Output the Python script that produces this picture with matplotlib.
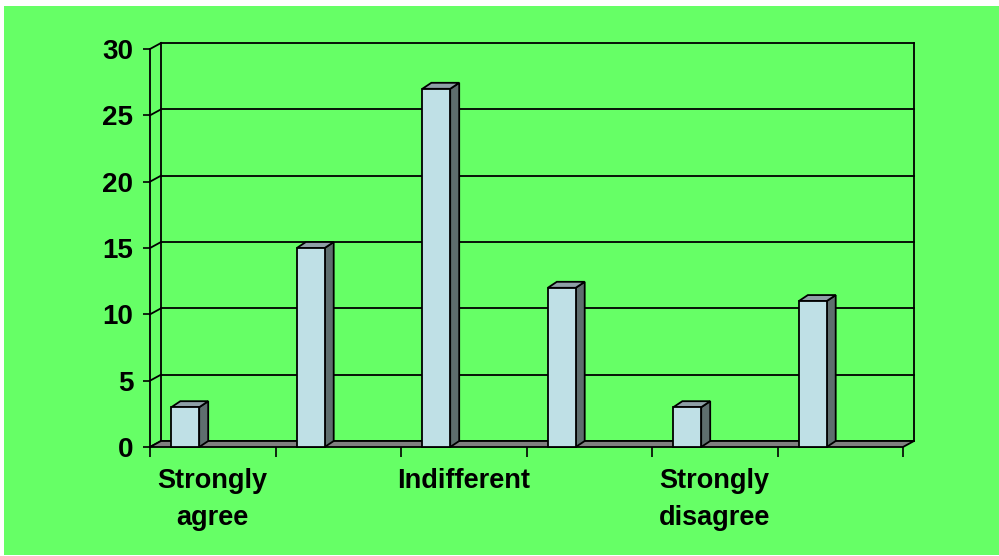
import matplotlib
matplotlib.use("Agg")
import matplotlib.pyplot as plt
from matplotlib.patches import Polygon, Rectangle
from matplotlib.lines import Line2D

# ---- data ----
categories = ["Strongly\nagree", "", "Indifferent", "", "Strongly\ndisagree", ""]
values = [3, 15, 27, 12, 3, 11]
y_ticks = [0, 5, 10, 15, 20, 25, 30]

# ---- style ----
BG = "#66FF66"
FRONT = "#BFE0E6"
SIDE = "#5E6E6E"
TOP = "#8E9FA6"
FLOOR = "#808080"
FONT = "Liberation Sans"

W, H = 999, 556
fig = plt.figure(figsize=(W / 100, H / 100), dpi=100, facecolor="white")
fig.patches.append(Rectangle((4 / W, 1 / H), 1, (549) / H, transform=fig.transFigure,
                             facecolor=BG, edgecolor="none", zorder=-10))

# front plane in pixels
x0p, x1p = 150, 903
y0p, y1p = 447, 49  # from top
ax = fig.add_axes([x0p / W, (H - y0p) / H, (x1p - x0p) / W, (y0p - y1p) / H])
ax.set_xlim(0, len(values))
ax.set_ylim(0, 30)
ax.patch.set_visible(False)
for s in ax.spines.values():
    s.set_visible(False)

px_x = (x1p - x0p) / len(values)
px_y = (y0p - y1p) / 30.0
DX = 11 / px_x      # wall depth
DY = 6 / px_y
BDX = 9 / px_x      # bar depth
BDY = 6 / px_y

lw = 1.3
# back wall gridlines
for t in y_ticks:
    ax.add_line(Line2D([DX, len(values) + DX], [t + DY, t + DY], color="black", lw=lw,
                       clip_on=False, zorder=1))
    ax.add_line(Line2D([0, DX], [t, t + DY], color="black", lw=lw, clip_on=False, zorder=1))
# walls edges
ax.add_line(Line2D([DX, DX], [DY, 30 + DY], color="black", lw=lw, clip_on=False, zorder=1))
ax.add_line(Line2D([len(values) + DX] * 2, [DY, 30 + DY], color="black", lw=lw,
                   clip_on=False, zorder=1))
ax.add_line(Line2D([0, 0], [0, 30], color="black", lw=lw, clip_on=False, zorder=1))

# floor
n = len(values)
ax.add_patch(Polygon([(0, 0), (n, 0), (n + DX, DY), (DX, DY)], closed=True,
                     facecolor=FLOOR, edgecolor="black", lw=lw, clip_on=False, zorder=2))

# bars
bl, bw = 0.17, 0.222
for i, v in enumerate(values):
    xa = i + bl
    xb = xa + bw
    ax.add_patch(Polygon([(xb, 0), (xb + BDX, BDY), (xb + BDX, v + BDY), (xb, v)], closed=True,
                         facecolor=SIDE, edgecolor="black", lw=lw, clip_on=False, zorder=3))
    ax.add_patch(Polygon([(xa, v), (xb, v), (xb + BDX, v + BDY), (xa + BDX, v + BDY)], closed=True,
                         facecolor=TOP, edgecolor="black", lw=lw, clip_on=False, zorder=3))
    ax.add_patch(Polygon([(xa, 0), (xb, 0), (xb, v), (xa, v)], closed=True,
                         facecolor=FRONT, edgecolor="black", lw=lw, clip_on=False, zorder=4))

# y axis ticks
ax.set_yticks(y_ticks)
ax.set_yticklabels([str(t) for t in y_ticks], fontsize=20, fontweight="bold", family=FONT)
ax.tick_params(axis="y", length=5, width=1.2, pad=7, colors="black")

# x axis ticks
ax.set_xticks(range(n + 1))
ax.set_xticklabels([""] * (n + 1))
ax.tick_params(axis="x", which="major", length=7, width=1.2, direction="out", pad=0)
ax.set_xticks([i + 0.5 for i in range(n)], minor=True)
ax.set_xticklabels(categories, minor=True, fontsize=19.5, fontweight="bold", family=FONT,
                   linespacing=1.55)
ax.tick_params(axis="x", which="minor", length=0, pad=15)
for lab in ax.get_xticklabels(minor=True):
    lab.set_fontstretch("expanded")

fig.savefig("out.png", dpi=100, facecolor="white")
